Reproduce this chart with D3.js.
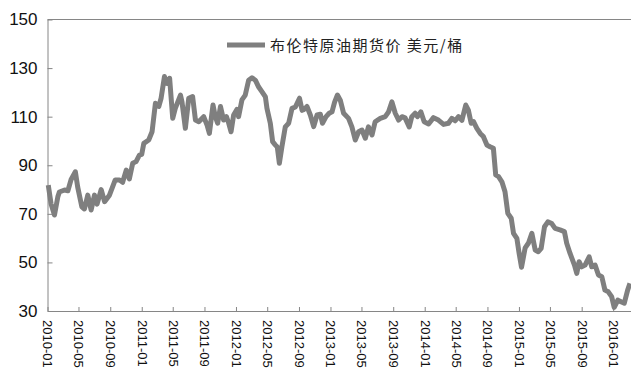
<!DOCTYPE html>
<html>
<head>
<meta charset="utf-8">
<script src="https://cdn.jsdelivr.net/npm/d3@7"></script>
<style>
  body { margin: 0; background: #fff; }
  .axis text { font-family: "Liberation Sans", Arial, sans-serif; fill: #111; }
  .axis path, .axis line { stroke: #868686; }
</style>
</head>
<body>
<svg id="chart" width="631" height="385"></svg>
<script>
// weekly-ish Brent readings
var dates = [
  "2010-01-04","2010-01-15","2010-01-28","2010-02-10","2010-02-16","2010-03-08","2010-03-21","2010-04-02",
  "2010-04-19","2010-04-28","2010-05-14","2010-05-24","2010-06-06","2010-06-19","2010-07-02","2010-07-12",
  "2010-07-28","2010-08-10","2010-08-29","2010-09-20","2010-10-07","2010-10-19","2010-11-02","2010-11-14",
  "2010-11-27","2010-12-10","2010-12-23","2011-01-01","2011-01-09","2011-01-28","2011-02-10","2011-02-23",
  "2011-03-08","2011-03-17","2011-03-30","2011-04-09","2011-04-19","2011-05-01","2011-05-11","2011-05-31",
  "2011-06-06","2011-06-19","2011-07-02","2011-07-17","2011-07-28","2011-08-10","2011-08-29","2011-09-11",
  "2011-09-20","2011-10-04","2011-10-13","2011-10-22","2011-11-02","2011-11-14","2011-11-25","2011-12-04",
  "2011-12-13","2011-12-23","2012-01-05","2012-01-11","2012-01-24","2012-02-06","2012-02-19","2012-03-03",
  "2012-03-16","2012-03-29","2012-04-11","2012-04-24","2012-04-30","2012-05-13","2012-05-22","2012-06-01",
  "2012-06-09","2012-06-17","2012-06-27","2012-07-10","2012-07-23","2012-08-05","2012-08-18","2012-09-03",
  "2012-09-13","2012-09-21","2012-10-02","2012-10-15","2012-10-28","2012-11-10","2012-11-23","2012-12-01",
  "2012-12-15","2012-12-27","2013-01-07","2013-01-17","2013-01-28","2013-02-08","2013-02-21","2013-03-12",
  "2013-03-25","2013-04-07","2013-04-20","2013-05-03","2013-05-16","2013-05-28","2013-06-11","2013-06-23",
  "2013-07-13","2013-08-01","2013-08-14","2013-08-27","2013-09-09","2013-09-22","2013-10-05","2013-10-17",
  "2013-11-02","2013-11-12","2013-11-25","2013-12-04","2013-12-17","2013-12-30","2014-01-16","2014-02-04",
  "2014-02-23","2014-03-15","2014-04-03","2014-04-16","2014-04-29","2014-05-12","2014-05-25","2014-06-09",
  "2014-06-19","2014-06-30","2014-07-09","2014-07-22","2014-08-04","2014-08-16","2014-08-30","2014-09-11",
  "2014-09-24","2014-10-03","2014-10-14","2014-10-27","2014-11-08","2014-11-19","2014-12-02","2014-12-11",
  "2014-12-24","2015-01-02","2015-01-11","2015-01-25","2015-02-07","2015-02-20","2015-03-05","2015-03-17",
  "2015-03-28","2015-04-10","2015-04-23","2015-05-08","2015-05-21","2015-06-09","2015-06-26","2015-07-05",
  "2015-07-18","2015-08-04","2015-08-13","2015-08-22","2015-09-01","2015-09-14","2015-09-30","2015-10-10",
  "2015-10-23","2015-11-05","2015-11-18","2015-11-30","2015-12-13","2015-12-26","2016-01-05","2016-01-19",
  "2016-01-31","2016-02-13","2016-02-26","2016-03-06"
];
var prices = [
  81.8, 74, 69.5, 77, 79, 79.8, 79.5, 84,
  87.3, 81, 72.9, 72, 77.7, 71.6, 77.7, 74,
  80, 75, 77.7, 83.9, 83.9, 83, 88, 84.4,
  90.8, 91.5, 94.2, 94.5, 99, 100.4, 103.8, 115.5,
  114.2, 117.6, 126.5, 123.7, 125.8, 109.3, 113.4, 118.9,
  116, 105.2, 117.6, 118.3, 108.6, 107.9, 110, 106.5,
  103.1, 114.8, 110, 107.3, 114.2, 108.6, 110, 107.3,
  103.8, 110.7, 113, 110, 116.9, 118.9, 125, 126,
  125, 122.2, 120.2, 118.1, 113.4, 107.3, 99.7, 98.4,
  97.5, 90.8, 97.7, 105.8, 107.3, 113.4, 114, 117.6,
  112.6, 113, 114.2, 110.7, 105.9, 110.7, 111, 107.3,
  110, 111.4, 112, 116, 118.9, 116.8, 111.4, 109.3,
  105.8, 100.4, 103.8, 104.5, 101.1, 105.8, 102.5, 107.9,
  109.3, 110, 112, 116.1, 111.4, 108.6, 110, 109.5,
  105.8, 110, 111.4, 110, 112, 107.9, 107, 109.6,
  108.6, 106.8, 107.3, 109.3, 108.3, 110, 108.5, 114.8,
  112.7, 107.3, 108, 105.2, 103.1, 101.8, 98.3, 97.6,
  97, 86, 85.3, 83.2, 79.1, 70.2, 68.2, 62,
  59.9, 53.5, 48, 56, 58, 62, 55.1, 54.4,
  55.8, 64.7, 66.7, 66, 64, 63.4, 62.7, 57.9,
  53.7, 48.9, 45.5, 50.3, 48.2, 48.9, 52.3, 48.2,
  48.9, 44.8, 44.1, 38.6, 37.9, 35.9, 31.5, 34.5,
  33.8, 33.2, 38.6, 41.4
];
var yTicks = [30, 50, 70, 90, 110, 130, 150];
var xTickLabels = ["2010-01","2010-05","2010-09","2011-01","2011-05","2011-09","2012-01","2012-05","2012-09",
  "2013-01","2013-05","2013-09","2014-01","2014-05","2014-09","2015-01","2015-05","2015-09","2016-01"];
var seriesName = "布伦特原油期货价 美元/桶";

var parse = d3.timeParse("%Y-%m-%d");
var parseMonth = d3.timeParse("%Y-%m");
var data = [];
for (var i = 0; i < dates.length; i++) {
  data.push({date: parse(dates[i]), price: prices[i]});
}

var svg = d3.select("#chart"),
    margin = {top: 19.5, right: 0, bottom: 74, left: 47.5},
    width = 631 - margin.left - margin.right,
    height = 385 - margin.top - margin.bottom;

var x = d3.scaleTime()
    .domain([parseMonth("2010-01"), parse("2016-03-10")])
    .range([0, width]);
var y = d3.scaleLinear().domain([30, 150]).range([height, 0]);

var g = svg.append("g")
    .attr("transform", "translate(" + margin.left + "," + margin.top + ")");

// top frame line
g.append("line")
    .attr("x1", 0).attr("x2", width)
    .attr("y1", 0).attr("y2", 0)
    .attr("stroke", "#868686");

var yAxis = g.append("g")
    .attr("class", "axis")
    .call(d3.axisLeft(y).tickValues(yTicks).tickSizeInner(-5).tickSizeOuter(0).tickPadding(10));
yAxis.selectAll("text").style("font-size", "17px");

var xAxis = g.append("g")
    .attr("class", "axis")
    .attr("transform", "translate(0," + height + ")")
    .call(d3.axisBottom(x)
      .tickValues(xTickLabels.map(function(s) { return parseMonth(s); }))
      .tickFormat(d3.timeFormat("%Y-%m"))
      .tickSizeInner(-4).tickSizeOuter(0));
xAxis.selectAll("text")
    .style("font-size", "13px")
    .attr("text-anchor", "start")
    .attr("y", 0)
    .attr("dy", "0.35em")
    .attr("transform", "translate(0,9) rotate(90)");

var line = d3.line()
    .x(function(d) { return x(d.date); })
    .y(function(d) { return y(d.price); });

g.append("path")
    .datum(data)
    .attr("fill", "none")
    .attr("stroke", "#7f7f7f")
    .attr("stroke-width", 5)
    .attr("stroke-linejoin", "round")
    .attr("d", line);

// legend
var legend = svg.append("g").attr("transform", "translate(227,45)");
legend.append("line")
    .attr("x1", 0).attr("x2", 38)
    .attr("stroke", "#7f7f7f")
    .attr("stroke-width", 5);
legend.append("text")
    .attr("x", 43).attr("y", 6)
    .style("font-family", "'Noto Sans CJK SC', sans-serif")
    .style("font-size", "15px")
    .style("letter-spacing", "1.5px")
    .attr("fill", "#222")
    .text(seriesName);
</script>
</body>
</html>
